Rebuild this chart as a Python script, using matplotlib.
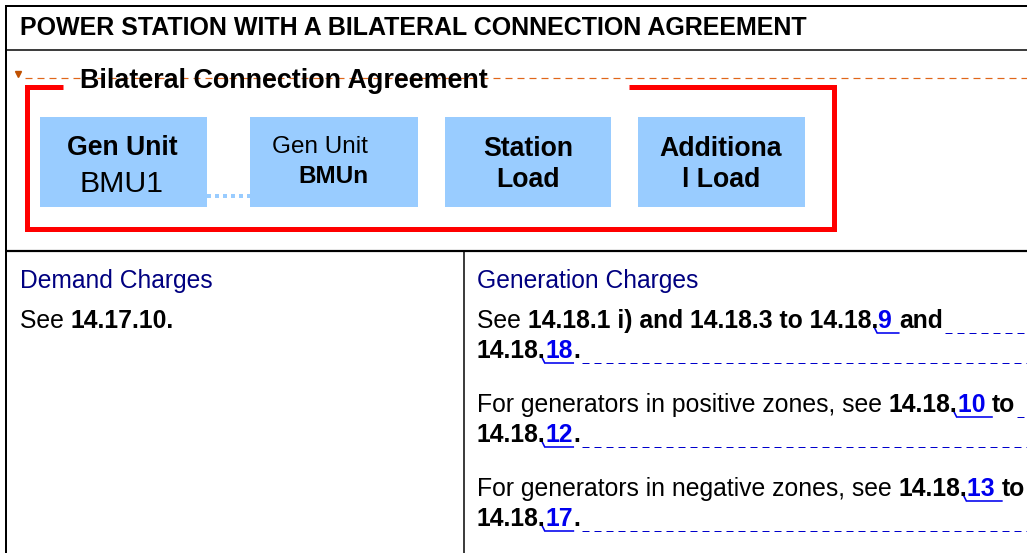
import matplotlib
matplotlib.use("Agg")
import matplotlib.pyplot as plt
from matplotlib.font_manager import FontProperties

plt.rcParams['lines.scale_dashes'] = False
FAM = ['Liberation Sans', 'DejaVu Sans']

# ---- content ----
title = "POWER STATION WITH A BILATERAL CONNECTION AGREEMENT"
group_label = "Bilateral Connection Agreement"
box_lines = [
    [("Gen Unit", "bold", 19.2), ("BMU1", "normal", 21.8)],
    [("Gen Unit", "normal", 17.5), ("BMUn", "bold", 17.5)],
    [("Station", "bold", 19.2), ("Load", "bold", 19.2)],
    [("Additiona", "bold", 19.2), ("l Load", "bold", 19.2)],
]
left_heading = "Demand Charges"
left_body = [("See ", "r"), ("14.17.10.", "b")]
right_heading = "Generation Charges"
right_body = [
    [("See ", "r"), ("14.18.1 i) and 14.18.3 to 14.18.", "b"), ("9 ", "link"), ("and", "b")],
    [("14.18.", "b"), ("18", "link"), (".", "b")],
    None,
    [("For generators in positive zones, see ", "r"), ("14.18.", "b"), ("10 ", "link"), ("to", "b")],
    [("14.18.", "b"), ("12", "link"), (".", "b")],
    None,
    [("For generators in negative zones, see ", "r"), ("14.18.", "b"), ("13 ", "link"), ("to", "b")],
    [("14.18.", "b"), ("17", "link"), (".", "b")],
]

W, H = 1027, 553
fig = plt.figure(figsize=(W / 100, H / 100), dpi=100)
ax = fig.add_axes([0, 0, 1, 1])
ax.set_xlim(0, W)
ax.set_ylim(H, 0)
ax.axis('off')
renderer = fig.canvas.get_renderer()

def px(v):
    return v * 0.72

def advance(s, prop):
    w1, _, _ = renderer.get_text_width_height_descent(s + "l", prop, ismath=False)
    w0, _, _ = renderer.get_text_width_height_descent("l", prop, ismath=False)
    return w1 - w0

# frame lines
ax.plot([6, W], [6, 6], color='black', lw=px(2), solid_capstyle='butt')
ax.plot([6, 6], [5, H], color='black', lw=px(2), solid_capstyle='butt')
ax.plot([6, W], [50, 50], color='black', lw=px(1.5), solid_capstyle='butt')
ax.plot([6, W], [251, 251], color='black', lw=px(2.2), solid_capstyle='butt')
ax.plot([464, 464], [251, H], color='black', lw=px(1.5), solid_capstyle='butt')

# title
ax.text(20, 35, title, fontsize=18, fontweight='bold', family=FAM, va='baseline', ha='left')

# orange dashed line + marker
ax.plot([25, W], [78.3, 78.3], color='#E0661A', lw=px(1.2), dashes=(px(7), px(5)))
ax.plot([18], [73.5], marker='v', color='#C05000', markersize=4, lw=0)

# red group outline
ax.plot([63, 27, 27, 833.5, 833.5, 629], [86.5, 86.5, 228.5, 228.5, 86.5, 86.5],
        color='#FF0000', lw=px(5), solid_joinstyle='miter', solid_capstyle='butt')
ax.text(80, 88, group_label, fontsize=19.4, fontweight='bold', family=FAM, va='baseline', ha='left', zorder=5)

# boxes
box_x = [(40, 207), (250, 418), (445, 611), (638, 805)]
box_y = (117, 207)
text_cx = [(122.5, 121.5), (320, 333), (528, 528), (721, 721)]
text_base = [(155, 192), (153, 183), (156, 187), (156, 187)]
for (x0, x1), lines, cxs, bases in zip(box_x, box_lines, text_cx, text_base):
    ax.add_patch(plt.Rectangle((x0, box_y[0]), x1 - x0, box_y[1] - box_y[0],
                               facecolor='#99CCFF', edgecolor='none'))
    for (s, wgt, fs), cx, b in zip(lines, cxs, bases):
        ax.text(cx, b, s, fontsize=fs, fontweight=wgt, family=FAM, va='baseline', ha='center')
ax.plot([207, 250], [195.7, 195.7], color='#99CCFF', lw=px(4), dashes=(px(4), px(4)), zorder=0.5)

# lower section
NAVY = '#000080'
ax.text(20, 288, left_heading, fontsize=17.7, color=NAVY, family=FAM, va='baseline')
ax.text(477, 288, right_heading, fontsize=17.7, color=NAVY, family=FAM, va='baseline')

BODY = 17.85
def draw_runs(x, y, parts, dash_to=None):
    for s, kind in parts:
        wgt = 'normal' if kind == 'r' else 'bold'
        col = '#0000EE' if kind == 'link' else 'black'
        prop = FontProperties(family=FAM, weight=wgt, size=BODY)
        ax.text(x, y, s, fontproperties=prop, color=col, va='baseline', ha='left')
        adv = advance(s, prop)
        if kind == 'link':
            ax.plot([x - 4, x - 1, x + adv], [y - 1, y + 5, y + 5], color='#0000EE', lw=px(1.6),
                    solid_joinstyle='miter')
        x += adv
    if dash_to is not None and x < dash_to:
        ax.plot([x + 2, dash_to], [y + 5, y + 5], color='#0000CC', lw=px(1), dashes=(px(7), px(5)))
    return x

draw_runs(20, 328, left_body)
base = [328, 358, None, 412, 442, None, 496, 526]
for parts, b in zip(right_body, base):
    if parts is None:
        continue
    draw_runs(477, b, parts, dash_to=W)

fig.savefig("out.png", dpi=100)
